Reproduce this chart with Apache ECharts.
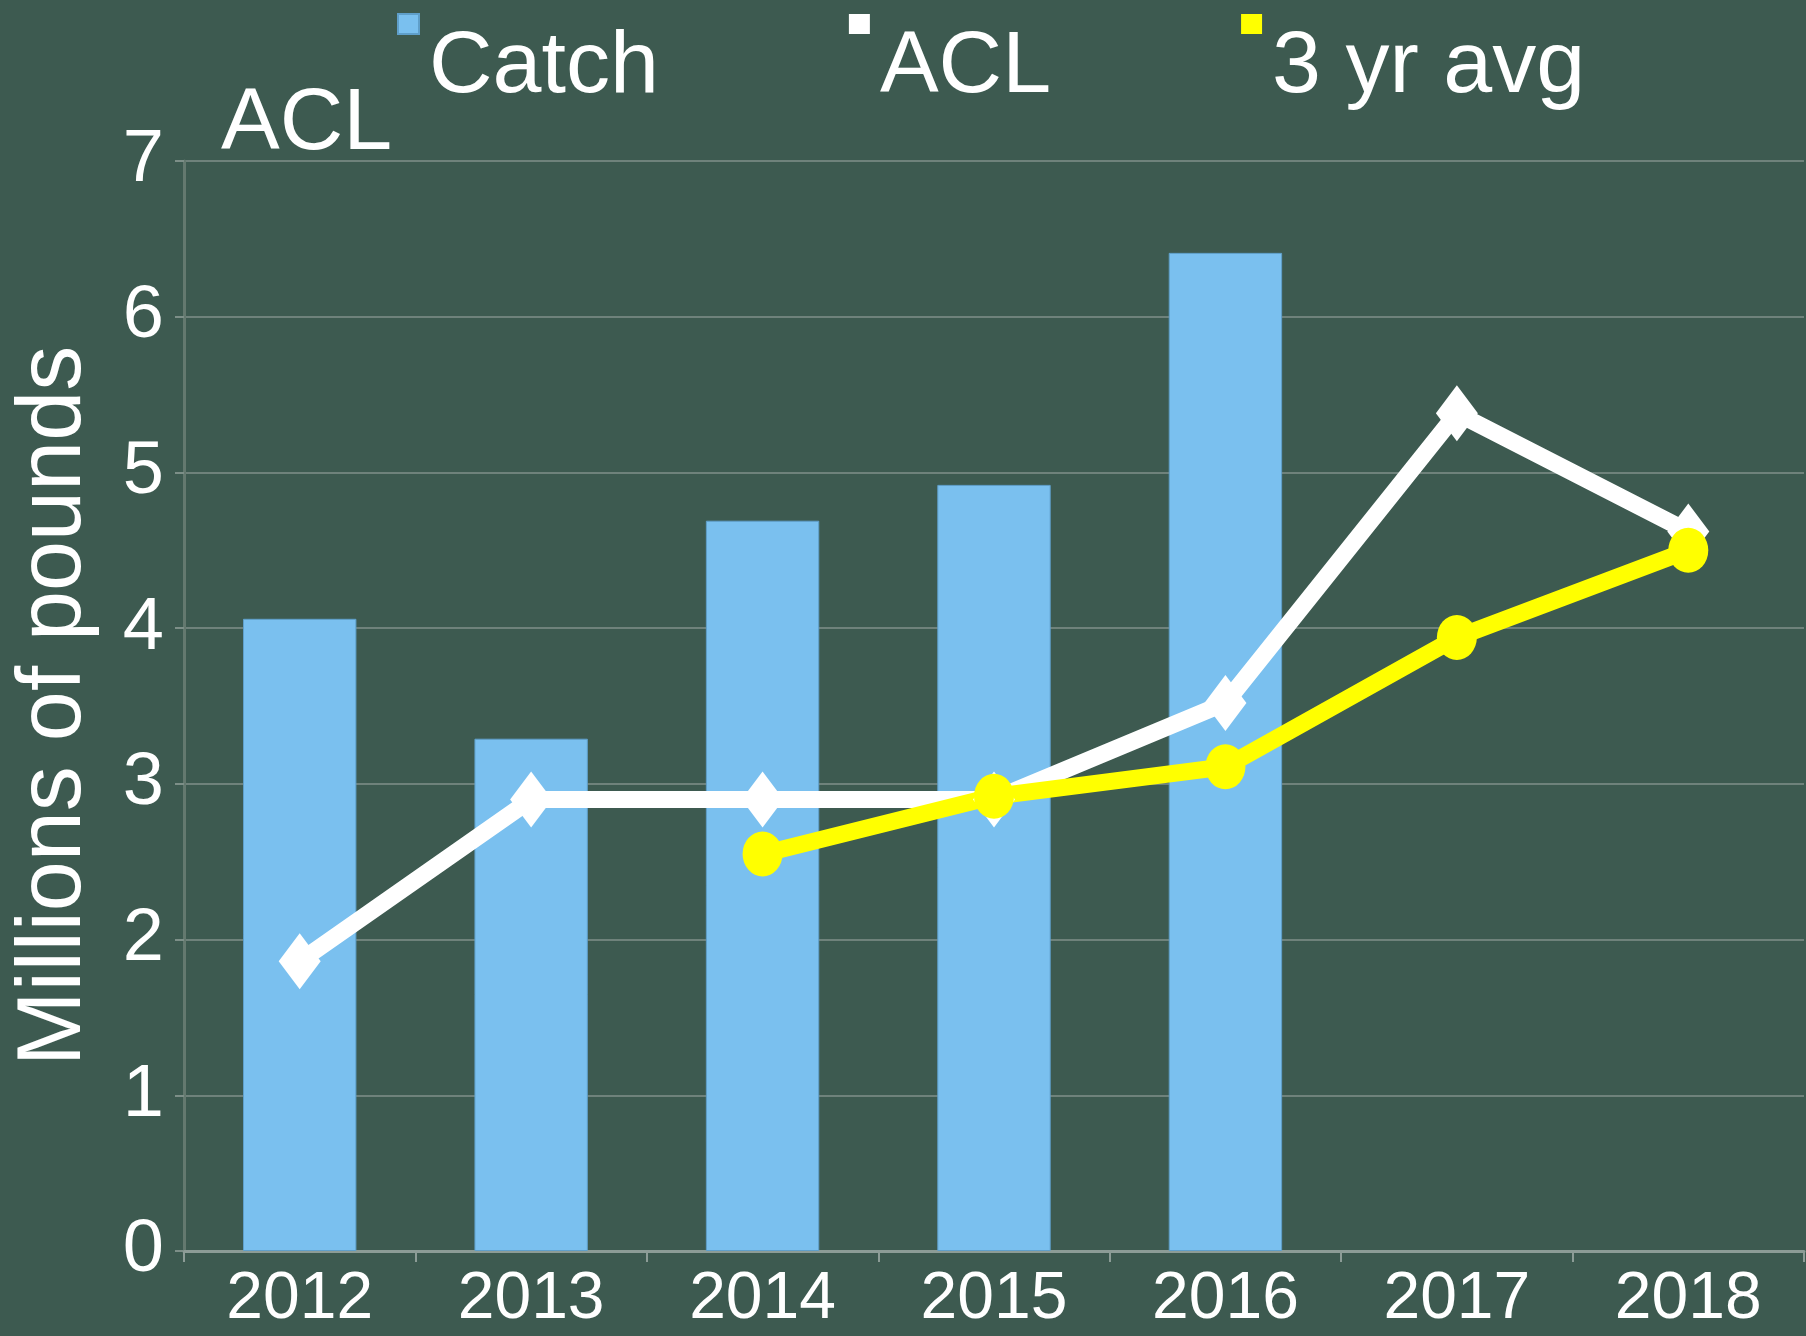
<!DOCTYPE html>
<html>
<head>
<meta charset="utf-8">
<script src="https://cdn.jsdelivr.net/npm/echarts@6/dist/echarts.min.js"></script>
<style>
  html, body { margin: 0; padding: 0; background: #3d5a50; }
  #chart { width: 1806px; height: 1336px; }
</style>
</head>
<body>
<div id="chart"></div>
<script>
var years = ["2012", "2013", "2014", "2015", "2016", "2017", "2018"];
var catchData = [4.06, 3.29, 4.69, 4.92, 6.41, null, null];
var aclData = [1.86, 2.9, 2.9, 2.9, 3.52, 5.38, 4.62];
var avgData = [null, null, 2.55, 2.92, 3.11, 3.94, 4.50];
var yTicks = [0, 1, 2, 3, 4, 5, 6, 7];

var font = "Liberation Sans";
var myChart = echarts.init(document.getElementById("chart"));

myChart.setOption({
  backgroundColor: "#3d5a50",
  animation: false,
  title: {
    text: "ACL",
    left: 216,
    top: 76,
    textStyle: { color: "#ffffff", fontFamily: font, fontSize: 88, fontWeight: "normal" }
  },
  legend: {
    top: -64,
    left: 397,
    padding: 0,
    itemGap: 190,
    itemWidth: 21,
    itemHeight: 20,
    icon: "rect",
    // text sits one line lower than the little square, like the original
    formatter: function (name) { return "\n" + name; },
    textStyle: {
      color: "#ffffff",
      fontFamily: font,
      fontSize: 88,
      lineHeight: 88,
      padding: [0, 0, 0, 5]
    },
    data: [
      { name: "Catch", itemStyle: { color: "#7ac0ef" } },
      { name: "ACL", itemStyle: { color: "#ffffff" } },
      { name: "3 yr avg", itemStyle: { color: "#ffff00" } }
    ]
  },
  grid: {
    left: 184,
    right: 2,
    top: 161,
    bottom: 85,
    containLabel: false
  },
  xAxis: {
    type: "category",
    data: years,
    axisLine: { lineStyle: { color: "#8c9c96", width: 3 } },
    axisTick: { show: true, length: 11, lineStyle: { color: "#8c9c96", width: 2 } },
    axisLabel: { color: "#ffffff", fontFamily: font, fontSize: 66, margin: 16, interval: 0 },
    splitLine: { show: false }
  },
  yAxis: {
    type: "value",
    min: yTicks[0],
    max: yTicks[yTicks.length - 1],
    interval: 1,
    name: "Millions of pounds",
    nameLocation: "middle",
    nameGap: 84,
    nameTextStyle: { color: "#ffffff", fontFamily: font, fontSize: 90 },
    axisLine: { show: true, lineStyle: { color: "#64796f", width: 3 } },
    axisTick: { show: true, length: 9, lineStyle: { color: "#7d8f88", width: 2 } },
    axisLabel: { color: "#ffffff", fontFamily: font, fontSize: 74, margin: 20 },
    splitLine: { show: true, lineStyle: { color: "#6f827b", width: 2 } }
  },
  series: [
    {
      name: "Catch",
      type: "bar",
      data: catchData,
      barWidth: "49%",
      itemStyle: { color: "#7ac0ef", borderColor: "#5f9fca", borderWidth: 1 }
    },
    {
      name: "ACL",
      type: "line",
      data: aclData,
      symbol: "diamond",
      symbolSize: [42, 56],
      lineStyle: { color: "#ffffff", width: 17 },
      itemStyle: { color: "#ffffff" }
    },
    {
      name: "3 yr avg",
      type: "line",
      data: avgData,
      symbol: "circle",
      symbolSize: [40, 45],
      lineStyle: { color: "#ffff00", width: 17 },
      itemStyle: { color: "#ffff00" }
    }
  ]
});
</script>
</body>
</html>
